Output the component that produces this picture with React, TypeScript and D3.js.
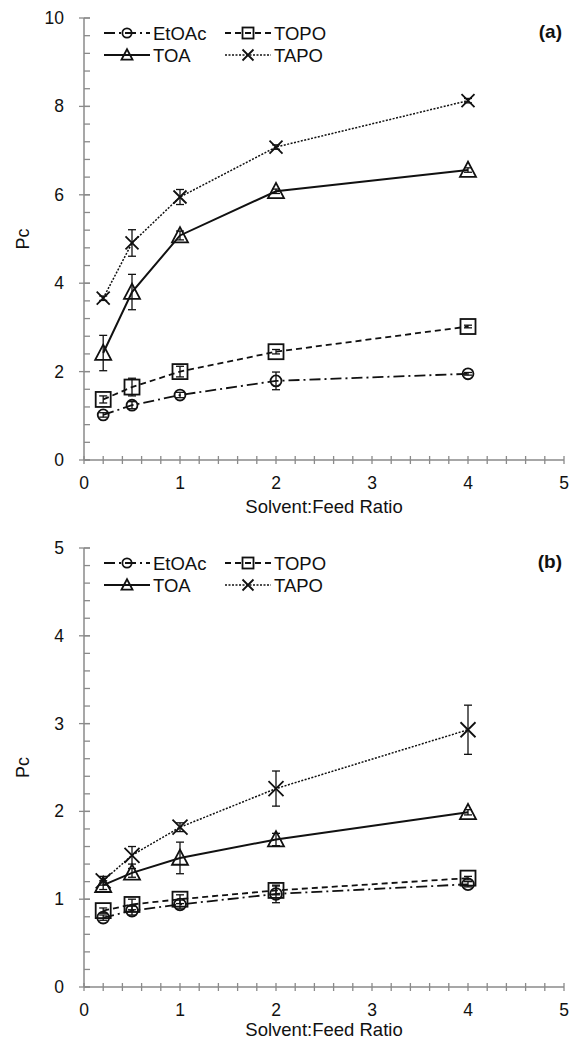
import React from "react";
import * as d3 from "d3";

const ratios = [0.2, 0.5, 1, 2, 4];
const seriesNames = ["EtOAc", "TOPO", "TOA", "TAPO"];

const etoacA = [1.02, 1.24, 1.47, 1.79, 1.95];
const etoacAErr = [0.05, 0.08, 0.06, 0.2, 0.03];
const topoA = [1.37, 1.65, 2.0, 2.45, 3.02];
const topoAErr = [0.08, 0.2, 0.12, 0.05, 0.03];
const toaA = [2.42, 3.8, 5.08, 6.08, 6.56];
const toaAErr = [0.4, 0.4, 0.1, 0.05, 0.05];
const tapoA = [3.66, 4.91, 5.95, 7.08, 8.13];
const tapoAErr = [0.05, 0.3, 0.17, 0.05, 0.05];

const etoacB = [0.79, 0.87, 0.94, 1.06, 1.17];
const etoacBErr = [0.03, 0.05, 0.05, 0.1, 0.03];
const topoB = [0.87, 0.94, 1.0, 1.1, 1.24];
const topoBErr = [0.03, 0.06, 0.05, 0.05, 0.02];
const toaB = [1.16, 1.3, 1.47, 1.68, 1.99];
const toaBErr = [0.05, 0.05, 0.18, 0.07, 0.03];
const tapoB = [1.21, 1.5, 1.82, 2.26, 2.93];
const tapoBErr = [0.05, 0.1, 0.05, 0.2, 0.28];

const xTicks = [0, 1, 2, 3, 4, 5];
const yTicksA = [0, 2, 4, 6, 8, 10];
const yTicksB = [0, 1, 2, 3, 4, 5];

const FONT = "'Liberation Sans', Arial, sans-serif";
const AXIS = "#8a8a8a";

type Style = { dash: string; width: number; marker: string };
const styles: Record<string, Style> = {
  EtOAc: { dash: "11,4,2,4", width: 1.8, marker: "circle" },
  TOPO: { dash: "6,4", width: 1.8, marker: "square" },
  TOA: { dash: "", width: 2, marker: "triangle" },
  TAPO: { dash: "2,1.5", width: 1.5, marker: "x" },
};

function Marker({ kind, x, y, s }: { kind: string; x: number; y: number; s: number }) {
  const common = { fill: "none", stroke: "#111", strokeWidth: 1.8 };
  if (kind === "circle") return <circle cx={x} cy={y} r={s * 0.42} {...common} />;
  if (kind === "square") return <rect x={x - s / 2} y={y - s / 2} width={s} height={s} {...common} />;
  if (kind === "triangle") {
    const h = s * 0.95;
    return (
      <path
        d={`M${x},${y - h * 0.55}L${x + s / 2},${y + h * 0.45}L${x - s / 2},${y + h * 0.45}Z`}
        {...common}
      />
    );
  }
  const r = s / 2;
  return (
    <path d={`M${x - r},${y - r}L${x + r},${y + r}M${x - r},${y + r}L${x + r},${y - r}`} {...common} />
  );
}

function Panel({
  top,
  height,
  titleOffset,
  yMax,
  yTicks,
  minorStep,
  label,
  data,
  errs,
  sizes,
}: {
  top: number;
  height: number;
  titleOffset: number;
  yMax: number;
  yTicks: number[];
  minorStep: number;
  label: string;
  data: number[][];
  errs: number[][];
  sizes: number[];
}) {
  const y0 = top + height;
  const x = d3.scaleLinear().domain([0, 5]).range([84, 564]);
  const y = d3.scaleLinear().domain([0, yMax]).range([y0, top]);
  const minorY = d3.range(0, yMax + 1e-9, minorStep);
  const minorX = d3.range(0, 5 + 1e-9, 0.2);
  const line = d3
    .line<number>()
    .x((_, i) => x(ratios[i]))
    .y((v) => y(v));
  const legendRows = [
    [0, 0],
    [1, 0],
    [0, 1],
    [1, 1],
  ];
  return (
    <g>
      {/* axes */}
      <line x1={x(0)} x2={x(5)} y1={y0} y2={y0} stroke={AXIS} strokeWidth={1.5} />
      <line x1={x(0)} x2={x(0)} y1={y0} y2={top} stroke={AXIS} strokeWidth={1.5} />
      {minorX.map((t, i) => (
        <line key={"mx" + i} x1={x(t)} x2={x(t)} y1={y0 - 4} y2={y0 + 4} stroke={AXIS} strokeWidth={1.3} />
      ))}
      {minorY.map((t, i) => (
        <line key={"my" + i} x1={x(0)} x2={x(0) + 6} y1={y(t)} y2={y(t)} stroke={AXIS} strokeWidth={1.3} />
      ))}
      {yTicks.map((t) => (
        <g key={"yt" + t}>
          <line x1={x(0) - 5} x2={x(0) + 6} y1={y(t)} y2={y(t)} stroke={AXIS} strokeWidth={1.3} />
          <text x={64} y={y(t) + 6} textAnchor="end" fontSize={17.5} fontFamily={FONT} fill="#111">
            {t}
          </text>
        </g>
      ))}
      {xTicks.map((t) => (
        <text key={"xt" + t} x={x(t)} y={y0 + 29} textAnchor="middle" fontSize={17.5} fontFamily={FONT} fill="#111">
          {t}
        </text>
      ))}
      <text x={324} y={y0 + titleOffset} textAnchor="middle" fontSize={18.5} fontFamily={FONT} fill="#111">
        Solvent:Feed Ratio
      </text>
      <text
        transform={`translate(29,${(top + y0) / 2}) rotate(-90)`}
        textAnchor="middle"
        fontSize={18}
        fontFamily={FONT}
        fill="#111"
      >
        Pc
      </text>
      <text x={562} y={top + 20} textAnchor="end" fontSize={19} fontWeight="bold" fontFamily={FONT} fill="#111">
        {label}
      </text>
      {/* series */}
      {seriesNames.map((name, si) => {
        const st = styles[name];
        return (
          <g key={name}>
            <path
              d={line(data[si]) || ""}
              fill="none"
              stroke="#111"
              strokeWidth={st.width}
              strokeDasharray={st.dash || undefined}
            />
            {data[si].map((v, i) => (
              <Marker key={"m" + i} kind={st.marker} x={x(ratios[i])} y={y(v)} s={sizes[si]} />
            ))}
            {data[si].map((v, i) => {
              const e = errs[si][i];
              const cx = x(ratios[i]);
              return (
                <g key={"e" + i} stroke="#111" strokeWidth={1.3}>
                  <line x1={cx} x2={cx} y1={y(v - e)} y2={y(v + e)} />
                  <line x1={cx - 4} x2={cx + 4} y1={y(v - e)} y2={y(v - e)} />
                  <line x1={cx - 4} x2={cx + 4} y1={y(v + e)} y2={y(v + e)} />
                </g>
              );
            })}
          </g>
        );
      })}
      {/* legend */}
      {seriesNames.map((name, si) => {
        const st = styles[name];
        const [col, row] = legendRows[si];
        const lx = col === 0 ? 104 : 225;
        const ly = top + 15 + row * 22;
        return (
          <g key={"lg" + name}>
            <line
              x1={lx}
              x2={lx + 46}
              y1={ly}
              y2={ly}
              stroke="#111"
              strokeWidth={st.width}
              strokeDasharray={st.dash || undefined}
            />
            <Marker kind={st.marker} x={lx + 23} y={ly} s={11} />
            <text x={lx + 49} y={ly + 6.5} fontSize={18.5} fontFamily={FONT} fill="#111">
              {name}
            </text>
          </g>
        );
      })}
    </g>
  );
}

export default function App() {
  return (
    <svg
      width={572}
      height={1041}
      viewBox="0 0 572 1041"
      style={{ position: "absolute", left: 0, top: 0, background: "#fff" }}
    >
      <rect width={572} height={1041} fill="#fff" />
      <Panel
        top={18}
        height={442}
        titleOffset={53}
        yMax={10}
        yTicks={yTicksA}
        minorStep={0.4}
        label="(a)"
        data={[etoacA, topoA, toaA, tapoA]}
        errs={[etoacAErr, topoAErr, toaAErr, tapoAErr]}
        sizes={[13, 15, 16, 13]}
      />
      <Panel
        top={548}
        height={439}
        titleOffset={49}
        yMax={5}
        yTicks={yTicksB}
        minorStep={0.2}
        label="(b)"
        data={[etoacB, topoB, toaB, tapoB]}
        errs={[etoacBErr, topoBErr, toaBErr, tapoBErr]}
        sizes={[14, 15, 16, 15]}
      />
    </svg>
  );
}
